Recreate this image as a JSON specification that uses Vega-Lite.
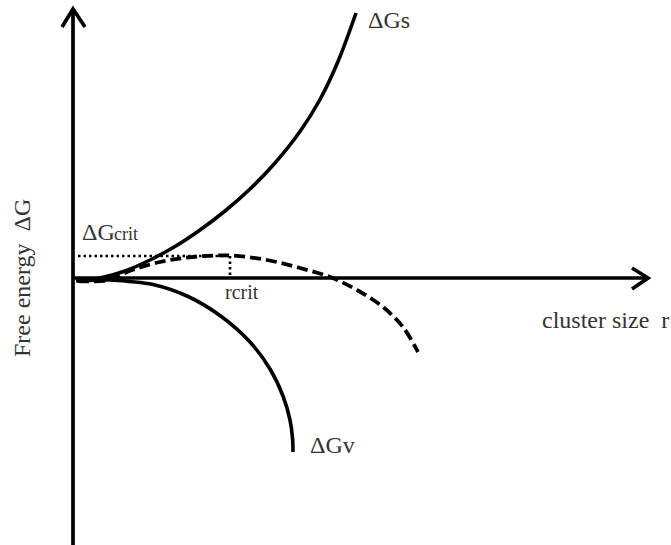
{
  "$schema": "https://vega.github.io/schema/vega-lite/v6.json",
  "width": 671,
  "height": 545,
  "autosize": {"type": "none"},
  "padding": 0,
  "background": "white",
  "config": {"view": {"stroke": null}},
  "datasets": {
    "axes": [
      {"part": "G axis", "i": 0, "r": 0, "G": -2.67},
      {"part": "G axis", "i": 1, "r": 0, "G": 2.66},
      {"part": "r axis", "i": 0, "r": 0, "G": 0},
      {"part": "r axis", "i": 1, "r": 5.73, "G": 0},
      {"part": "G arrow", "i": 0, "r": -0.11, "G": 2.51},
      {"part": "G arrow", "i": 1, "r": 0, "G": 2.69},
      {"part": "G arrow", "i": 2, "r": 0.12, "G": 2.51},
      {"part": "r arrow", "i": 0, "r": 5.59, "G": 0.1},
      {"part": "r arrow", "i": 1, "r": 5.75, "G": 0},
      {"part": "r arrow", "i": 2, "r": 5.59, "G": -0.11}
    ],
    "solid": [
      {"curve": "surface", "r": 0.03, "G": -0.03},
      {"curve": "surface", "r": 0.27, "G": 0.0},
      {"curve": "surface", "r": 0.52, "G": 0.07},
      {"curve": "surface", "r": 0.77, "G": 0.18},
      {"curve": "surface", "r": 1.02, "G": 0.315},
      {"curve": "surface", "r": 1.27, "G": 0.48},
      {"curve": "surface", "r": 1.52, "G": 0.67},
      {"curve": "surface", "r": 1.77, "G": 0.89},
      {"curve": "surface", "r": 2.02, "G": 1.15},
      {"curve": "surface", "r": 2.27, "G": 1.465},
      {"curve": "surface", "r": 2.47, "G": 1.785},
      {"curve": "surface", "r": 2.65, "G": 2.165},
      {"curve": "surface", "r": 2.83, "G": 2.65},
      {"curve": "volume", "r": 0.05, "G": -0.03},
      {"curve": "volume", "r": 0.37, "G": -0.02},
      {"curve": "volume", "r": 0.57, "G": -0.035},
      {"curve": "volume", "r": 0.8, "G": -0.065},
      {"curve": "volume", "r": 1.14, "G": -0.18},
      {"curve": "volume", "r": 1.47, "G": -0.375},
      {"curve": "volume", "r": 1.77, "G": -0.64},
      {"curve": "volume", "r": 1.97, "G": -0.91},
      {"curve": "volume", "r": 2.1, "G": -1.18},
      {"curve": "volume", "r": 2.17, "G": -1.42},
      {"curve": "volume", "r": 2.195, "G": -1.6},
      {"curve": "volume", "r": 2.2, "G": -1.74}
    ],
    "total": [
      {"r": 0.05, "G": -0.03},
      {"r": 0.37, "G": -0.02},
      {"r": 0.54, "G": 0.06},
      {"r": 0.87, "G": 0.16},
      {"r": 1.2, "G": 0.21},
      {"r": 1.57, "G": 0.225},
      {"r": 1.94, "G": 0.18},
      {"r": 2.27, "G": 0.1},
      {"r": 2.57, "G": 0.01},
      {"r": 2.84, "G": -0.12},
      {"r": 3.1, "G": -0.29},
      {"r": 3.3, "G": -0.49},
      {"r": 3.45, "G": -0.74}
    ],
    "guides": [
      {"guide": "barrier", "i": 0, "r": 0.05, "G": 0.22},
      {"guide": "barrier", "i": 1, "r": 1.57, "G": 0.22},
      {"guide": "critical size", "i": 0, "r": 1.57, "G": 0.22},
      {"guide": "critical size", "i": 1, "r": 1.57, "G": 0}
    ],
    "labels": [
      {"text": "ΔGs", "r": 2.95, "G": 2.5},
      {"text": "ΔG", "r": 0.09, "G": 0.38},
      {"text": "ΔGv", "r": 2.37, "G": -1.75},
      {"text": "cluster size\u00a0 r", "r": 4.69, "G": -0.5}
    ],
    "crit": [
      {"text": "crit", "r": 0.41, "G": 0.38}
    ],
    "rcrit": [
      {"text": "rcrit", "r": 1.52, "G": -0.21}
    ],
    "title": [
      {"text": "Free energy\u00a0 ΔG", "r": -0.43, "G": -0.79}
    ]
  },
  "encoding": {
    "x": {"field": "r", "type": "quantitative", "scale": {"domain": [-0.73, 5.98], "nice": false, "zero": false}, "axis": null},
    "y": {"field": "G", "type": "quantitative", "scale": {"domain": [-2.67, 2.78], "nice": false, "zero": false}, "axis": null}
  },
  "layer": [
    {
      "data": {"name": "axes"},
      "mark": {"type": "line", "color": "black", "strokeWidth": 3.7, "strokeJoin": "miter"},
      "encoding": {"detail": {"field": "part"}, "order": {"field": "i"}}
    },
    {
      "data": {"name": "solid"},
      "mark": {"type": "line", "color": "black", "strokeWidth": 3.6, "interpolate": "catmull-rom"},
      "encoding": {"detail": {"field": "curve"}}
    },
    {
      "data": {"name": "total"},
      "mark": {"type": "line", "color": "black", "strokeWidth": 3.8, "strokeDash": [11, 5], "interpolate": "catmull-rom"},
      "encoding": {}
    },
    {
      "data": {"name": "guides"},
      "mark": {"type": "line", "color": "black", "strokeWidth": 2.6, "strokeDash": [2.5, 3]},
      "encoding": {"detail": {"field": "guide"}, "order": {"field": "i"}}
    },
    {
      "data": {"name": "labels"},
      "mark": {"type": "text", "font": "Liberation Serif", "fontSize": 24, "align": "left", "baseline": "alphabetic", "color": "#333333"},
      "encoding": {"text": {"field": "text"}}
    },
    {
      "data": {"name": "crit"},
      "mark": {"type": "text", "font": "Liberation Serif", "fontSize": 18, "align": "left", "baseline": "alphabetic", "color": "#333333"},
      "encoding": {"text": {"field": "text"}}
    },
    {
      "data": {"name": "rcrit"},
      "mark": {"type": "text", "font": "Liberation Serif", "fontSize": 20, "align": "left", "baseline": "alphabetic", "color": "#333333"},
      "encoding": {"text": {"field": "text"}}
    },
    {
      "data": {"name": "title"},
      "mark": {"type": "text", "font": "Liberation Serif", "fontSize": 24, "align": "left", "baseline": "alphabetic", "angle": 270, "color": "#333333"},
      "encoding": {"text": {"field": "text"}}
    }
  ]
}
